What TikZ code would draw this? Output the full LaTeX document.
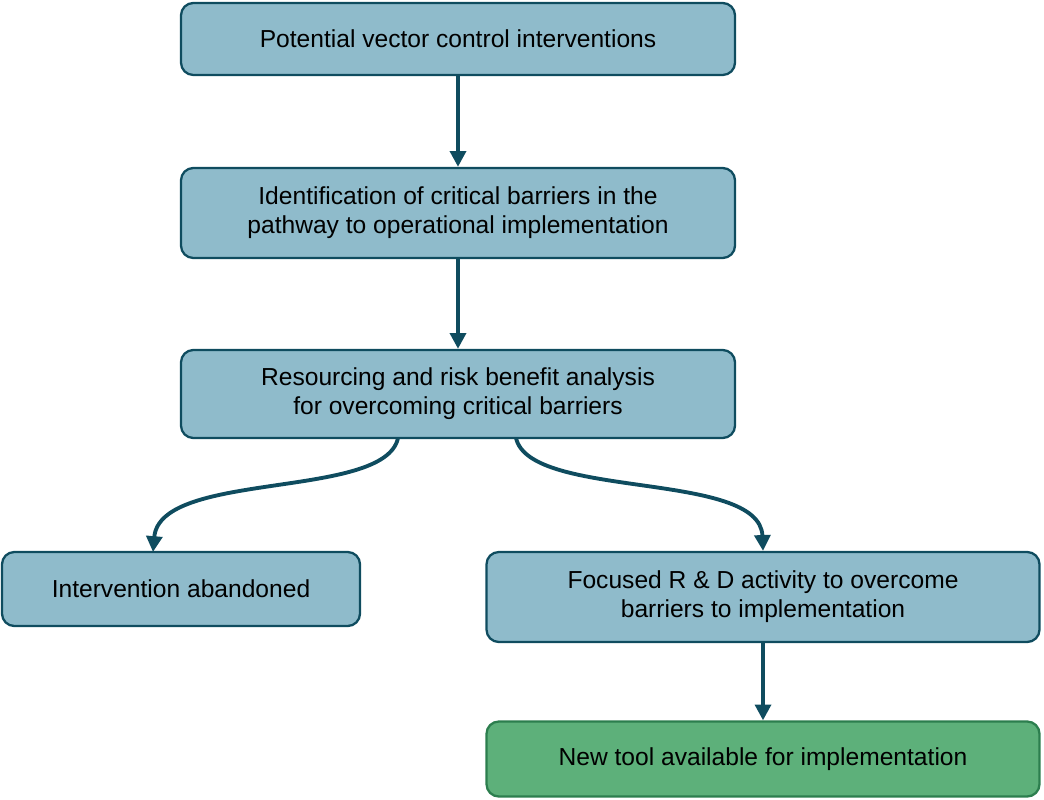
\documentclass[tikz,border=0pt]{standalone}
\usepackage{fontspec}
\setmainfont{Liberation Sans}
\usetikzlibrary{arrows.meta}
\definecolor{bfill}{HTML}{8FBBCB}
\definecolor{bdraw}{HTML}{0F4C5F}
\definecolor{gfill}{HTML}{5DB07A}
\definecolor{gdraw}{HTML}{2C7E4E}
\begin{document}
\begin{tikzpicture}[x=0.02cm,y=-0.02cm,
 box/.style={draw=bdraw,fill=bfill,line width=1.3pt,rounded corners=7pt,align=center,inner sep=0pt,font=\fontsize{14}{16.5}\selectfont},
 gbox/.style={box,draw=gdraw,fill=gfill},
 arr/.style={draw=bdraw,line width=2.2pt,-{Triangle[length=9pt,width=9pt]}}]
\useasboundingbox (0,0) rectangle (1044,800);
\node[box,minimum width=554*0.02cm,minimum height=72*0.02cm] (a) at (458,39) {Potential vector control interventions};
\node[box,minimum width=554*0.02cm,minimum height=90*0.02cm] (b) at (458,213) {Identification of critical barriers in the\\pathway to operational implementation};
\node[box,minimum width=554*0.02cm,minimum height=88*0.02cm] (c) at (458,394) {Resourcing and risk benefit analysis\\for overcoming critical barriers};
\node[box,minimum width=358*0.02cm,minimum height=74*0.02cm] (d) at (181,589) {Intervention abandoned};
\node[box,minimum width=553*0.02cm,minimum height=90*0.02cm] (e) at (763,597) {Focused R \& D activity to overcome\\barriers to implementation};
\node[gbox,minimum width=553*0.02cm,minimum height=75*0.02cm] (f) at (763,759) {New tool available for implementation};
\draw[arr] (a.south) -- (b.north);
\draw[arr] (b.south) -- (c.north);
\draw[arr] (e.south) -- (f.north);
\coordinate (cl) at (398,438);
\coordinate (cr) at (516,438);
\coordinate (dt) at (153,552);
\draw[arr] (cl) .. controls (385,500) and (160,470) .. (dt);
\draw[arr] (cr) .. controls (530,500) and (760,470) .. (e.north);
\end{tikzpicture}
\end{document}
